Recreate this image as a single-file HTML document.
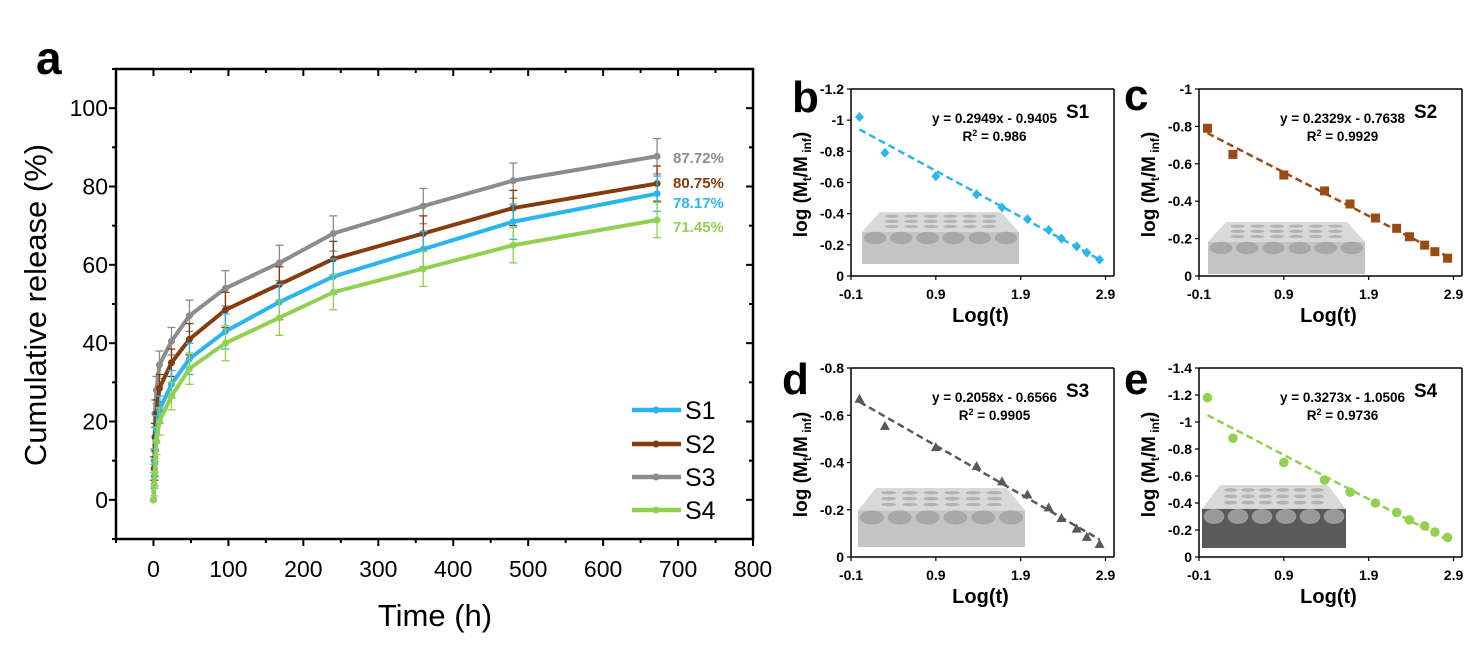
<!DOCTYPE html>
<html><head><meta charset="utf-8"><style>
body{margin:0;background:#fff;}
svg{display:block;font-family:"Liberation Sans",Arial,sans-serif;}
</style></head><body>
<svg id="fig" width="1473" height="645" viewBox="0 0 1473 645" xmlns="http://www.w3.org/2000/svg"></svg>
<script>
// ---- Main chart data (panel a) ----
const times = [0, 1, 2, 4, 8, 24, 48, 96, 168, 240, 360, 480, 672];
const s1Vals = [0, 6, 9.5, 18, 23, 29.5, 36, 43, 50.5, 57, 64, 71, 78.17];
const s2Vals = [0, 8, 16, 22, 28.5, 35, 41, 48.5, 55, 61.5, 68, 74.5, 80.75];
const s3Vals = [0, 10, 22, 28, 34.5, 40.5, 47, 54, 60.5, 68, 75, 81.5, 87.72];
const s4Vals = [0, 4, 7, 15, 20, 26.5, 33.5, 40, 46.5, 53, 59, 65, 71.45];
const errVals = [0, 3, 3.5, 3.5, 3.5, 3.5, 4, 4.5, 4.5, 4.5, 4.5, 4.5, 4.5];
const xTicks = [0, 100, 200, 300, 400, 500, 600, 700, 800];
const yTicks = [0, 20, 40, 60, 80, 100];
const finalLabels = ["78.17%", "80.75%", "87.72%", "71.45%"];
// ---- Small panels data ----
const logT = [0, 0.30, 0.90, 1.38, 1.68, 1.98, 2.23, 2.38, 2.56, 2.68, 2.83];
const bVals = [-1.02, -0.79, -0.64, -0.525, -0.44, -0.365, -0.295, -0.24, -0.19, -0.15, -0.105];
const cVals = [-0.79, -0.65, -0.54, -0.455, -0.385, -0.31, -0.255, -0.21, -0.165, -0.13, -0.095];
const dVals = [-0.67, -0.555, -0.465, -0.385, -0.32, -0.265, -0.21, -0.165, -0.12, -0.085, -0.055];
const eVals = [-1.18, -0.88, -0.70, -0.57, -0.48, -0.40, -0.33, -0.275, -0.23, -0.185, -0.145];
const slopes = [0.2949, 0.2329, 0.2058, 0.3273];
const intercepts = [-0.9405, -0.7638, -0.6566, -1.0506];
const r2s = ["0.986", "0.9929", "0.9905", "0.9736"];
const smallXTicks = [-0.1, 0.9, 1.9, 2.9];
const bTicks = [0, -0.2, -0.4, -0.6, -0.8, -1, -1.2];
const cTicks = [0, -0.2, -0.4, -0.6, -0.8, -1];
const dTicks = [0, -0.2, -0.4, -0.6, -0.8];
const eTicks = [0, -0.2, -0.4, -0.6, -0.8, -1, -1.2, -1.4];

const NS = "http://www.w3.org/2000/svg";
const svg = document.getElementById("fig");
function el(tag, attrs, parent, text) {
  const e = document.createElementNS(NS, tag);
  for (const k in attrs) e.setAttribute(k, attrs[k]);
  if (text !== undefined) e.textContent = text;
  (parent || svg).appendChild(e);
  return e;
}

// ===== Panel a =====
const L = 116, R = 753, T = 69, B = 539;
const xMin = -50, xMax = 800, yMin = -10, yMax = 110;
const xS = v => L + (v - xMin) / (xMax - xMin) * (R - L);
const yS = v => B - (v - yMin) / (yMax - yMin) * (B - T);
const ga = el("g", {});


let t = el("text", {x: 36, y: 74, "font-size": 46, "font-weight": "bold"}, ga, "a");
 
let fr = el("rect", {x: L, y: T, width: R - L, height: B - T, fill: "none", stroke: "#000", "stroke-width": 2.5}, ga);
 
for (let v = -50; v <= 800; v += 50) {
  const major = v % 100 === 0;
  const len = major ? 7 : 4;
  el("line", {x1: xS(v), y1: B, x2: xS(v), y2: B + len, stroke: "#000", "stroke-width": 2}, ga);
  el("line", {x1: xS(v), y1: T, x2: xS(v), y2: T + len, stroke: "#000", "stroke-width": 2}, ga);
}
for (let v = -10; v <= 110; v += 10) {
  const major = v % 20 === 0;
  const len = major ? 7 : 4;
  el("line", {x1: L - len, y1: yS(v), x2: L, y2: yS(v), stroke: "#000", "stroke-width": 2}, ga);
  el("line", {x1: R - len, y1: yS(v), x2: R, y2: yS(v), stroke: "#000", "stroke-width": 2}, ga);
}
xTicks.forEach(v => {
  const tx = el("text", {x: xS(v), y: 577, "font-size": 23, "text-anchor": "middle"}, ga, v);
   
});
yTicks.forEach(v => {
  const tx = el("text", {x: 108, y: yS(v) + 8, "font-size": 23, "text-anchor": "end"}, ga, v);
   
});
t = el("text", {x: 435, y: 626, "font-size": 31, "text-anchor": "middle"}, ga, "Time (h)");
 
t = el("text", {x: 0, y: 0, "font-size": 31, "text-anchor": "middle", transform: "translate(46,305) rotate(-90)"}, ga, "Cumulative release (%)");
 

const series = [
  {name: "S1", vals: s1Vals, color: "#29b6ee", ly: 410, lab: finalLabels[0], laby: 208},
  {name: "S2", vals: s2Vals, color: "#843c0c", ly: 444, lab: finalLabels[1], laby: 188},
  {name: "S3", vals: s3Vals, color: "#8c8c8c", ly: 477, lab: finalLabels[2], laby: 163},
  {name: "S4", vals: s4Vals, color: "#92d050", ly: 510, lab: finalLabels[3], laby: 232}
];
const drawOrder = [2, 1, 0, 3];
drawOrder.forEach(i => {
  const s = series[i];
  const g = el("g", {}, ga);
  
  
  times.forEach((tt, j) => {
    if (errVals[j] <= 0) return;
    const x = xS(tt), y1 = yS(s.vals[j] + errVals[j]), y2 = yS(s.vals[j] - errVals[j]);
    el("line", {x1: x, y1: y1, x2: x, y2: y2, stroke: s.color, "stroke-width": 1.3}, g);
    el("line", {x1: x - 4, y1: y1, x2: x + 4, y2: y1, stroke: s.color, "stroke-width": 1.3}, g);
    el("line", {x1: x - 4, y1: y2, x2: x + 4, y2: y2, stroke: s.color, "stroke-width": 1.3}, g);
  });
  const pts = times.map((tt, j) => xS(tt) + "," + yS(s.vals[j])).join(" ");
  const pl = el("polyline", {points: pts, fill: "none", stroke: s.color, "stroke-width": 4, "stroke-linejoin": "round"}, g);
   
  times.forEach((tt, j) => {
    const c = el("circle", {cx: xS(tt), cy: yS(s.vals[j]), r: 3.5, fill: s.color}, g);
     
  });
  const fl = el("text", {x: 673, y: s.laby, "font-size": 15, "font-weight": "bold", fill: s.color}, ga, s.lab);
   
});
series.forEach(s => {
  const lg = el("g", {}, ga);
  
  
  el("line", {x1: 632, y1: s.ly, x2: 681, y2: s.ly, stroke: s.color, "stroke-width": 4.5}, lg);
  el("circle", {cx: 656, cy: s.ly, r: 3.5, fill: s.color}, lg);
  el("text", {x: 685, y: s.ly + 9, "font-size": 25}, lg, s.name);
});

// ===== Small panels =====
const panels = [
  {id: "b", vals: bVals, ticks: bTicks, top: -1.2, L: 851, R: 1114, T: 89, B: 276, color: "#29b6ee", marker: "diamond", name: "S1", lx: 792, ly: 112, inset: [862, 212, 157, 52, "a"]},
  {id: "c", vals: cVals, ticks: cTicks, top: -1, L: 1199, R: 1462, T: 89, B: 276, color: "#9a4a14", marker: "square", name: "S2", lx: 1124, ly: 110, inset: [1208, 222, 157, 52, "b"]},
  {id: "d", vals: dVals, ticks: dTicks, top: -0.8, L: 851, R: 1114, T: 368, B: 557, color: "#595959", marker: "triangle", name: "S3", lx: 782, ly: 394, inset: [858, 488, 167, 59, "c"]},
  {id: "e", vals: eVals, ticks: eTicks, top: -1.4, L: 1199, R: 1462, T: 368, B: 557, color: "#92d050", marker: "circle", name: "S4", lx: 1124, ly: 394, inset: [1202, 485, 144, 63, "d"]}
];
panels.forEach((p, pi) => {
  const g = el("g", {});
  
  
  const sx = v => p.L + (v + 0.1) / 3.1 * (p.R - p.L);
  const sy = v => p.B - (v / p.top) * (p.B - p.T);
  let lt = el("text", {x: p.lx, y: p.ly, "font-size": 44, "font-weight": "bold"}, g, p.id);
   
  const [ix, iy, iw, ih, kind] = p.inset;
  const ins = el("g", {}, g);
   
  el("polygon", {points: `${ix+18},${iy} ${ix+iw-18},${iy} ${ix+iw},${iy+ih*0.38} ${ix},${iy+ih*0.38}`, fill: "#d9d9d9"}, ins);
  el("rect", {x: ix, y: iy + ih * 0.38, width: iw, height: ih * 0.62, fill: kind === "d" ? "#5a5a5a" : "#c4c4c4"}, ins);
  for (let k = 0; k < 6; k++) {
    el("ellipse", {cx: ix + iw * (k + 0.5) / 6, cy: iy + ih * 0.5, rx: iw / 14, ry: ih * 0.12, fill: kind === "d" ? "#9a9a9a" : "#a8a8a8"}, ins);
    for (let r = 0; r < 3; r++) el("ellipse", {cx: ix + 20 + (iw - 40) * (k + 0.5) / 6, cy: iy + ih * (0.08 + r * 0.1), rx: iw / 22, ry: ih * 0.03, fill: "#b3b3b3"}, ins);
  }
  el("line", {x1: p.L, y1: p.T, x2: p.L, y2: p.B, stroke: "#000", "stroke-width": 1.5}, g);
  el("line", {x1: p.L, y1: p.B, x2: p.R, y2: p.B, stroke: "#000", "stroke-width": 1.5}, g);
  el("line", {x1: p.L, y1: p.T, x2: p.R, y2: p.T, stroke: "#000", "stroke-width": 1.5}, g);
  el("line", {x1: p.R, y1: p.T, x2: p.R, y2: p.B, stroke: "#000", "stroke-width": 1.5}, g);
  p.ticks.forEach(v => {
    el("line", {x1: p.L - 4, y1: sy(v), x2: p.L, y2: sy(v), stroke: "#000", "stroke-width": 1.2}, g);
    const tx = el("text", {x: p.L - 7, y: sy(v) + 5, "font-size": 14, "font-weight": "bold", "text-anchor": "end"}, g, v);
     
  });
  smallXTicks.forEach(v => {
    el("line", {x1: sx(v), y1: p.B, x2: sx(v), y2: p.B + 4, stroke: "#000", "stroke-width": 1.2}, g);
    const tx = el("text", {x: sx(v), y: p.B + 23, "font-size": 14, "font-weight": "bold", "text-anchor": "middle"}, g, v);
     
  });
  lt = el("text", {x: (p.L + p.R) / 2 - 2, y: p.B + 46, "font-size": 20, "font-weight": "bold", "text-anchor": "middle"}, g, "Log(t)");
   
  const yt = el("text", {x: 0, y: 0, "font-size": 19, "font-weight": "bold", "text-anchor": "middle", transform: `translate(${p.L - 44},${(p.T + p.B) / 2 + 2}) rotate(-90)`}, g);
   
  el("tspan", {}, yt, "log (M");
  el("tspan", {"font-size": 12, dy: 4}, yt, "t");
  el("tspan", {dy: -4}, yt, "/M");
  el("tspan", {"font-size": 12, dy: 4}, yt, " inf");
  el("tspan", {dy: -4}, yt, ")");
  const fx0 = logT[0], fx1 = logT[logT.length - 1];
  const fl = el("line", {x1: sx(fx0), y1: sy(slopes[pi] * fx0 + intercepts[pi]), x2: sx(fx1), y2: sy(slopes[pi] * fx1 + intercepts[pi]), stroke: p.color, "stroke-width": 2.5, "stroke-dasharray": "7,4"}, g);
   
  logT.forEach((x, j) => {
    const cx = sx(x), cy = sy(p.vals[j]);
    let m;
    if (p.marker === "diamond") m = el("polygon", {points: `${cx},${cy-5} ${cx+4.5},${cy} ${cx},${cy+5} ${cx-4.5},${cy}`, fill: p.color}, g);
    else if (p.marker === "square") m = el("rect", {x: cx - 4.5, y: cy - 4.5, width: 9, height: 9, fill: p.color}, g);
    else if (p.marker === "triangle") m = el("polygon", {points: `${cx},${cy-5} ${cx+5},${cy+4} ${cx-5},${cy+4}`, fill: p.color}, g);
    else m = el("circle", {cx: cx, cy: cy, r: 4.8, fill: p.color}, g);
     
  });
  const mid = (p.L + p.R) / 2 + 12;
  const eq = el("text", {x: mid, y: p.T + 34, "font-size": 13.5, "font-weight": "bold", "text-anchor": "middle"}, g, `y = ${slopes[pi].toFixed(4)}x - ${Math.abs(intercepts[pi]).toFixed(4)}`);
   
  const r2 = el("text", {x: mid, y: p.T + 52, "font-size": 13.5, "font-weight": "bold", "text-anchor": "middle"}, g);
   
  el("tspan", {}, r2, "R");
  el("tspan", {"font-size": 9, dy: -5}, r2, "2");
  el("tspan", {dy: 5}, r2, " = " + r2s[pi]);
  const sn = el("text", {x: p.R - 48, y: p.T + 29, "font-size": 19, "font-weight": "bold"}, g, p.name);
   
});
</script>
</body></html>
